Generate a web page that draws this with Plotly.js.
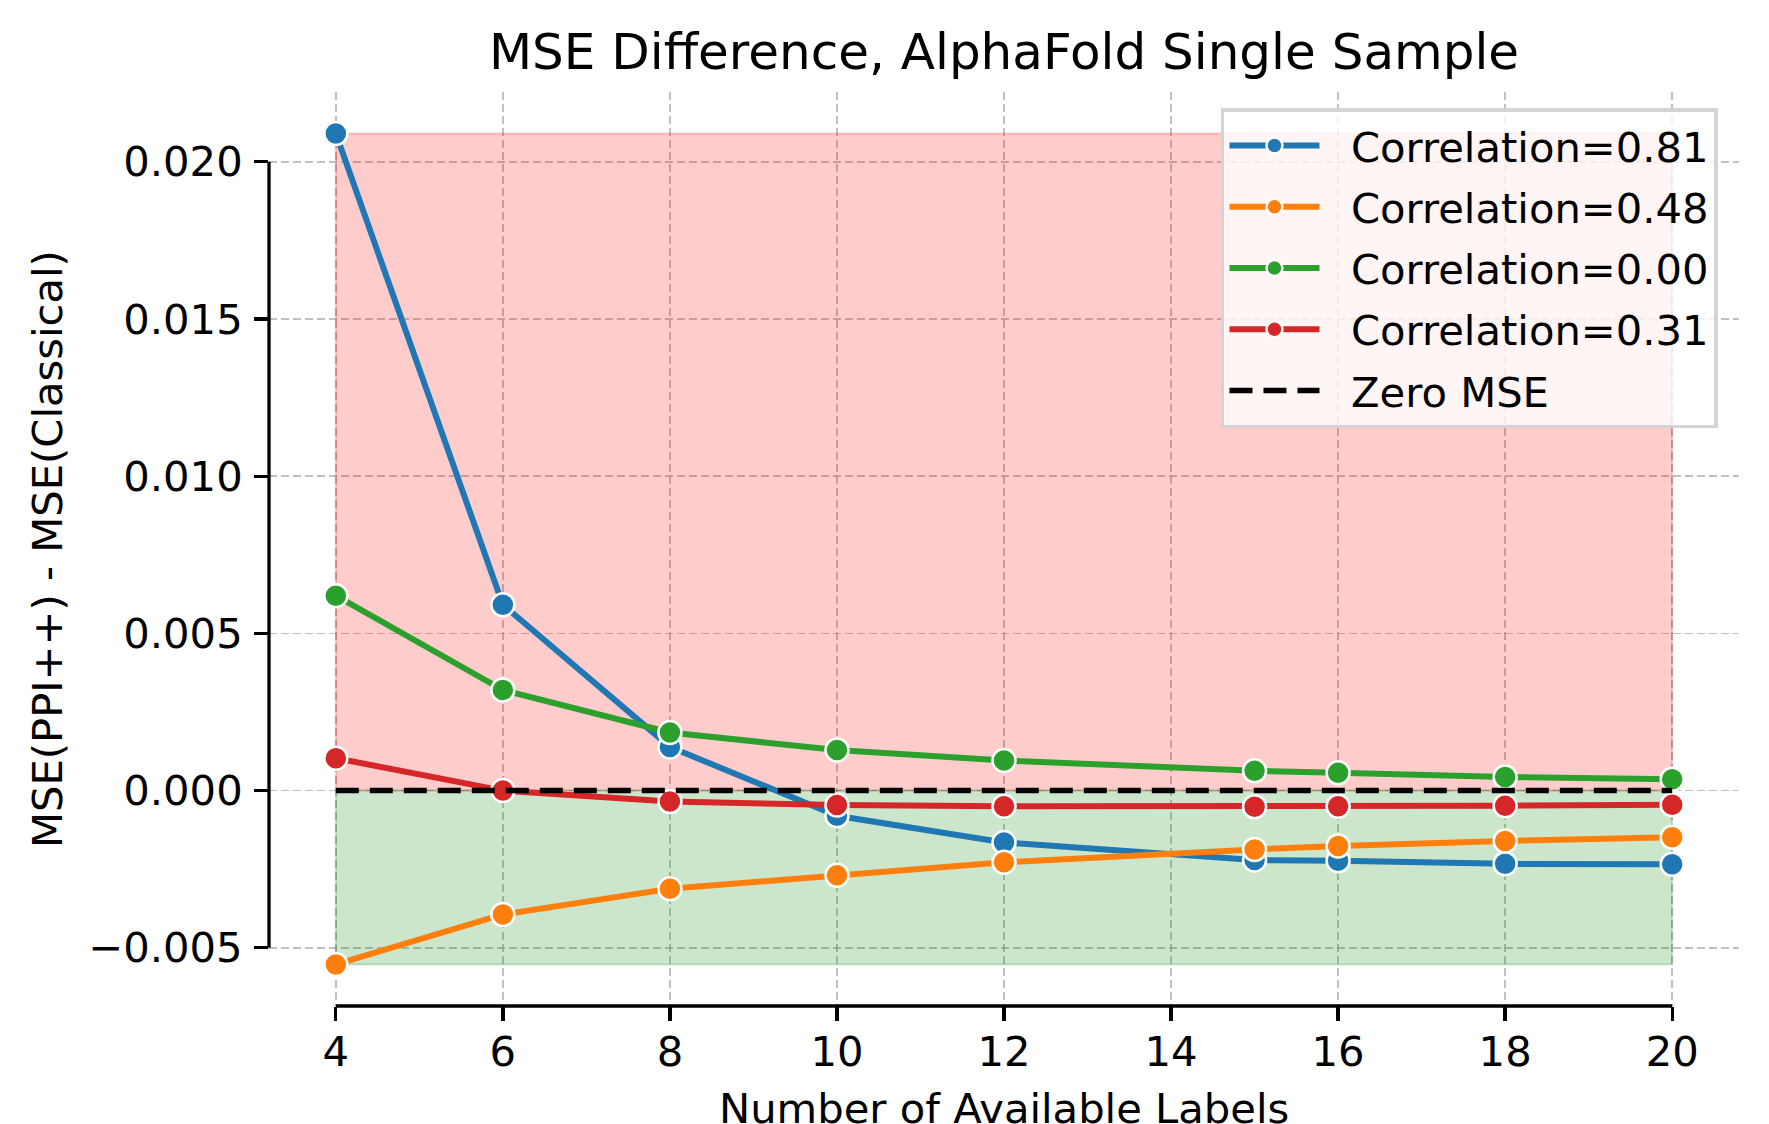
<!DOCTYPE html>
<html>
<head>
<meta charset="utf-8">
<script src="https://cdn.plot.ly/plotly-3.0.1.min.js"></script>
<style>
  html, body { margin: 0; padding: 0; background: #ffffff; }
  #chart { width: 1769px; height: 1124px; }
</style>
</head>
<body>
<div id="chart"></div>
<script>
// Number of available labels (x positions)
const labels = [4, 6, 8, 10, 12, 15, 16, 18, 20];

// MSE(PPI++) - MSE(Classical) for each prediction-label correlation
const corr081 = [0.02090, 0.00591, 0.00139, -0.00080, -0.00165, -0.00221, -0.00223, -0.00233, -0.00234];
const corr048 = [-0.00553, -0.00394, -0.00312, -0.00269, -0.00228, -0.00187, -0.00176, -0.00160, -0.00148];
const corr000 = [0.00620, 0.00320, 0.00185, 0.00129, 0.00096, 0.00063, 0.00057, 0.00043, 0.00036];
const corr031 = [0.00103, 0.00000, -0.00035, -0.00046, -0.00050, -0.00051, -0.00050, -0.00048, -0.00045];

const seriesNames = ['Correlation=0.81', 'Correlation=0.48', 'Correlation=0.00', 'Correlation=0.31'];
const zeroName = 'Zero MSE';

// Tick positions and labels
const xTicks = [4, 6, 8, 10, 12, 14, 16, 18, 20];
const xTickText = ['4', '6', '8', '10', '12', '14', '16', '18', '20'];
const yTicks = [-0.005, 0.000, 0.005, 0.010, 0.015, 0.020];
const yTickText = ['\u22120.005', '0.000', '0.005', '0.010', '0.015', '0.020'];

const colors = ['#1f77b4', '#ff7f0e', '#2ca02c', '#d62728'];
const FONT = 'DejaVu Sans, Verdana, sans-serif';
const BASE = 41.7;
const LEGEND_GAP = '\u00A0\u00A0';  // spacing between legend handle and label

const allSeries = [corr081, corr048, corr000, corr031];
const allY = [].concat(...allSeries);
const yMax = Math.max(...allY);
const yMin = Math.min(...allY);
const xFirst = labels[0];
const xLast = labels[labels.length - 1];

// axis limits with 5% padding around the data
const xPad = (xLast - xFirst) * 0.05;
const yPad = (yMax - yMin) * 0.05;

const traces = [];

// shaded regions: above zero (PPI++ worse) and below zero (PPI++ better)
traces.push({
  x: [xFirst, xLast, xLast, xFirst, xFirst],
  y: [0, 0, yMax, yMax, 0],
  mode: 'lines', fill: 'toself',
  fillcolor: 'rgba(255,0,0,0.2)',
  line: { color: 'rgba(255,0,0,0.2)', width: 2 },
  showlegend: false, hoverinfo: 'skip'
});
traces.push({
  x: [xFirst, xLast, xLast, xFirst, xFirst],
  y: [yMin, yMin, 0, 0, yMin],
  mode: 'lines', fill: 'toself',
  fillcolor: 'rgba(0,128,0,0.2)',
  line: { color: 'rgba(0,128,0,0.2)', width: 2 },
  showlegend: false, hoverinfo: 'skip'
});

allSeries.forEach((ys, i) => {
  traces.push({
    x: labels, y: ys,
    name: LEGEND_GAP + seriesNames[i],
    legendgroup: 'g' + i,
    mode: 'lines+markers',
    line: { color: colors[i], width: 6 },
    marker: { color: colors[i], size: 23, line: { color: '#ffffff', width: 2.5 } }
  });
});

traces.push({
  x: [xFirst, xLast], y: [0, 0],
  name: LEGEND_GAP + zeroName,
  legendgroup: 'g4',
  mode: 'lines',
  line: { color: '#000000', width: 5.5, dash: '23px,11px' }
});

const axisCommon = {
  showline: false, zeroline: false,
  ticks: 'outside', ticklen: 14, tickwidth: 3.3, tickcolor: '#000000',
  tickfont: { family: FONT, size: BASE, color: '#000000' },
  showgrid: true, gridcolor: 'rgba(160,160,160,0.65)', gridwidth: 1.7, griddash: '8px,4px',
  tickmode: 'array'
};

const layout = {
  width: 1769, height: 1124,
  paper_bgcolor: '#ffffff', plot_bgcolor: '#ffffff',
  margin: { l: 269, r: 30, t: 92, b: 118, pad: 0 },
  font: { family: FONT, size: BASE, color: '#000000' },
  title: {
    text: 'MSE Difference, AlphaFold Single Sample',
    font: { family: FONT, size: 50, color: '#000000' },
    x: 0.5, xref: 'paper', xanchor: 'center',
    y: 1 - 51 / 1124, yref: 'container', yanchor: 'middle'
  },
  xaxis: Object.assign({}, axisCommon, {
    range: [xFirst - xPad, xLast + xPad],
    tickvals: xTicks, ticktext: xTickText,
    ticklabelstandoff: -5
  }),
  yaxis: Object.assign({}, axisCommon, {
    range: [yMin - yPad, yMax + yPad],
    tickvals: yTicks, ticktext: yTickText,
    ticklabelstandoff: 3
  }),
  legend: {
    x: 0.9857, y: 0.982, xanchor: 'right', yanchor: 'top',
    bgcolor: 'rgba(255,255,255,0.8)',
    bordercolor: '#d4d4d4', borderwidth: 3.5,
    font: { family: FONT, size: BASE, color: '#000000' },
    itemwidth: 90,
    tracegroupgap: 4,
    traceorder: 'grouped'
  },
  shapes: [
    // trimmed left spine spanning the first to last y tick
    { type: 'line', xref: 'paper', yref: 'y', x0: 0, x1: 0,
      y0: yTicks[0], y1: yTicks[yTicks.length - 1],
      line: { color: '#000000', width: 3.3 } },
    // trimmed bottom spine spanning the first to last x tick
    { type: 'line', xref: 'x', yref: 'paper', x0: xTicks[0], x1: xTicks[xTicks.length - 1],
      y0: 0, y1: 0,
      line: { color: '#000000', width: 3.3 } }
  ],
  annotations: [
    { text: 'Number of Available Labels', xref: 'paper', yref: 'paper',
      x: 0.5, y: (1006 - 1108) / 914, xanchor: 'center', yanchor: 'middle',
      showarrow: false, font: { family: FONT, size: BASE, color: '#000000' } },
    { text: 'MSE(PPI++) - MSE(Classical)', xref: 'paper', yref: 'paper',
      x: (47 - 269) / 1470, y: 0.5, xanchor: 'center', yanchor: 'middle',
      textangle: -90, showarrow: false,
      font: { family: FONT, size: BASE, color: '#000000' } }
  ]
};

Plotly.newPlot('chart', traces, layout, { displayModeBar: false, staticPlot: true });
</script>
</body>
</html>
